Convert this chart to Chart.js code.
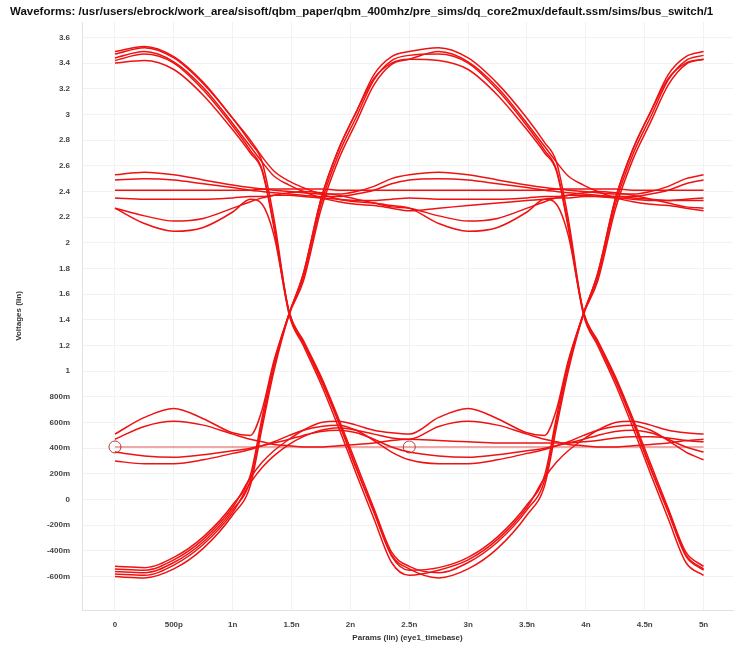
<!DOCTYPE html>
<html>
<head>
<meta charset="utf-8">
<title>bus_switch eye</title>
<script src="https://cdn.jsdelivr.net/npm/chart.js@4.4.1/dist/chart.umd.min.js"></script>
<style>
    html, body { margin: 0; padding: 0; background: #fff; }
    #wrap { width: 740px; height: 645px; }
</style>
</head>
<body>
<div id="wrap"><canvas id="eye" width="740" height="645"></canvas></div>
<script>
// Sample times over both unit intervals (ns)
const timeNs = [0, 0.25, 0.5, 0.75, 1.0, 1.15, 1.25, 1.35, 1.48, 1.6, 1.75, 1.9, 2.05, 2.2, 2.35,
                2.5, 2.75, 3.0, 3.25, 3.5, 3.65, 3.75, 3.85, 3.98, 4.1, 4.25, 4.4, 4.55, 4.7, 4.85, 5.0];

// Axis ticks
const xTicks = [0, 0.5, 1, 1.5, 2, 2.5, 3, 3.5, 4, 4.5, 5];
const xTickLabels = ['0', '500p', '1n', '1.5n', '2n', '2.5n', '3n', '3.5n', '4n', '4.5n', '5n'];
const yTicks = [3.6, 3.4, 3.2, 3, 2.8, 2.6, 2.4, 2.2, 2, 1.8, 1.6, 1.4, 1.2, 1, 0.8, 0.6, 0.4, 0.2, 0, -0.2, -0.4, -0.6];
const yTickLabels = ['3.6', '3.4', '3.2', '3', '2.8', '2.6', '2.4', '2.2', '2', '1.8', '1.6', '1.4', '1.2', '1',
                     '800m', '600m', '400m', '200m', '0', '-200m', '-400m', '-600m'];

// One unit interval of each waveform shape (V), 16 samples each
const fallA = [3.47, 3.52, 3.44, 3.24, 2.97, 2.78, 2.63, 2.19, 1.45, 1.22, 0.93, 0.60, 0.24, -0.10, -0.44, -0.55];
const fallB = [3.42, 3.47, 3.40, 3.19, 2.91, 2.72, 2.57, 2.14, 1.46, 1.24, 0.96, 0.63, 0.28, -0.07, -0.41, -0.52];
const fallC = [3.40, 3.42, 3.35, 3.15, 2.88, 2.70, 2.56, 2.12, 1.44, 1.20, 0.90, 0.56, 0.20, -0.15, -0.49, -0.59];
const riseA = [-0.52, -0.53, -0.45, -0.29, -0.04, 0.19, 0.64, 1.06, 1.45, 1.76, 2.34, 2.73, 3.02, 3.31, 3.45, 3.49];
const riseB = [-0.56, -0.57, -0.49, -0.33, -0.08, 0.15, 0.60, 1.03, 1.45, 1.73, 2.30, 2.69, 2.98, 3.27, 3.42, 3.46];
const riseC = [-0.60, -0.61, -0.54, -0.38, -0.12, 0.11, 0.56, 1.00, 1.44, 1.70, 2.26, 2.65, 2.94, 3.23, 3.39, 3.43];
const shoulderA = [3.49, 3.53, 3.45, 3.25, 2.97, 2.80, 2.67, 2.56, 2.48, 2.43, 2.38, 2.34, 2.32, 2.31, 2.29, 2.27];
const shoulderB = [3.44, 3.49, 3.41, 3.21, 2.93, 2.75, 2.63, 2.52, 2.45, 2.40, 2.35, 2.32, 2.30, 2.29, 2.27, 2.25];
const partialA = [-0.54, -0.55, -0.47, -0.31, -0.06, 0.17, 0.29, 0.38, 0.47, 0.54, 0.60, 0.61, 0.58, 0.54, 0.52, 0.51];
const partialB = [-0.58, -0.59, -0.51, -0.35, -0.10, 0.13, 0.25, 0.34, 0.43, 0.49, 0.54, 0.56, 0.54, 0.51, 0.48, 0.47];
const humpRise = [0.51, 0.64, 0.71, 0.63, 0.52, 0.50, 0.70, 1.08, 1.45, 1.76, 2.34, 2.73, 3.02, 3.28, 3.40, 3.43];
const lowHump = [0.47, 0.57, 0.61, 0.58, 0.51, 0.47, 0.45, 0.43, 0.42, 0.41, 0.41, 0.42, 0.43, 0.44, 0.46, 0.47];
const lowDip = [0.30, 0.28, 0.28, 0.31, 0.36, 0.39, 0.42, 0.45, 0.50, 0.54, 0.57, 0.58, 0.54, 0.46, 0.37, 0.31];
const lowMid = [0.37, 0.34, 0.33, 0.35, 0.38, 0.40, 0.42, 0.44, 0.47, 0.50, 0.53, 0.54, 0.52, 0.47, 0.41, 0.37];
const lowFlat = [0.41, 0.41, 0.41, 0.41, 0.41, 0.41, 0.41, 0.41, 0.41, 0.41, 0.41, 0.41, 0.41, 0.41, 0.41, 0.41];
const lowSettle = [0.47, 0.46, 0.45, 0.44, 0.44, 0.44, 0.44, 0.44, 0.45, 0.46, 0.48, 0.49, 0.49, 0.48, 0.46, 0.45];
const highHumpA = [2.53, 2.55, 2.53, 2.49, 2.45, 2.43, 2.42, 2.41, 2.40, 2.39, 2.38, 2.38, 2.40, 2.44, 2.50, 2.53];
const highHumpB = [2.49, 2.50, 2.49, 2.46, 2.43, 2.41, 2.40, 2.39, 2.38, 2.37, 2.36, 2.36, 2.38, 2.41, 2.46, 2.49];
const highFlatA = [2.41, 2.41, 2.41, 2.41, 2.41, 2.41, 2.42, 2.42, 2.42, 2.42, 2.42, 2.41, 2.41, 2.41, 2.41, 2.41];
const highFlatB = [2.35, 2.34, 2.34, 2.34, 2.35, 2.36, 2.36, 2.37, 2.37, 2.36, 2.35, 2.34, 2.33, 2.33, 2.34, 2.35];
const dipFall = [2.27, 2.15, 2.09, 2.12, 2.24, 2.34, 2.30, 2.06, 1.46, 1.23, 0.94, 0.61, 0.25, -0.09, -0.43, -0.54];
const dipStay = [2.27, 2.21, 2.17, 2.19, 2.27, 2.32, 2.35, 2.37, 2.39, 2.40, 2.39, 2.37, 2.34, 2.31, 2.28, 2.27];
const highSettle = [2.25, 2.27, 2.29, 2.31, 2.33, 2.34, 2.35, 2.35, 2.36, 2.36, 2.36, 2.35, 2.34, 2.33, 2.33, 2.33];

// Each trace: first interval shape, second interval shape
const traces = [
    [fallA, riseA], [fallB, riseB], [fallC, partialA], [shoulderA, dipFall], [shoulderB, highSettle],
    [riseA, fallA], [riseB, fallB], [riseC, shoulderB], [partialA, humpRise], [partialB, lowHump],
    [highHumpA, highHumpA], [highHumpB, highHumpB], [highFlatA, highFlatA], [highFlatB, highFlatB],
    [dipFall, riseC], [dipStay, dipStay], [humpRise, fallC], [lowHump, lowSettle],
    [lowDip, lowDip], [lowMid, lowMid]
];

// Reference level line and cursor markers
const refLevel = [lowFlat, lowFlat];
const markerT = [0, 2.5];
const markerV = [0.41, 0.41];

const titleText = 'Waveforms: /usr/users/ebrock/work_area/sisoft/qbm_paper/qbm_400mhz/pre_sims/dq_core2mux/default.ssm/sims/bus_switch/1';
const FONT = '"Liberation Sans", Arial, sans-serif';

const toPoints = (first, second) => {
    const values = first.concat(second.slice(1));
    return timeNs.map((t, i) => ({ x: t, y: values[i] }));
};

const datasets = traces.map(([a, b]) => ({
    data: toPoints(a, b),
    borderColor: '#ef1212',
    borderWidth: 1.5,
    pointRadius: 0,
    fill: false,
    cubicInterpolationMode: 'monotone'
}));

datasets.push({
    data: toPoints(refLevel[0], refLevel[1]),
    borderColor: 'rgba(215, 40, 40, 0.8)',
    borderWidth: 1.1,
    pointRadius: 0,
    fill: false
});

datasets.push({
    data: markerT.map((t, i) => ({ x: t, y: markerV[i] })),
    showLine: false,
    pointRadius: 6,
    pointBorderWidth: 1,
    pointBorderColor: '#b23a3a',
    pointBackgroundColor: 'rgba(0,0,0,0)'
});

// Path title, drawn unclipped along the top edge
const pathTitle = {
    id: 'pathTitle',
    afterDraw(chart) {
        const ctx = chart.ctx;
        ctx.save();
        ctx.font = 'bold 11.5px ' + FONT;
        ctx.fillStyle = '#111';
        ctx.textBaseline = 'middle';
        ctx.fillText(titleText, 10, 12);
        ctx.restore();
    }
};

const tickFont = { family: FONT, size: 8, weight: 'bold' };

new Chart(document.getElementById('eye'), {
    type: 'line',
    data: { datasets },
    plugins: [pathTitle],
    options: {
        responsive: false,
        animation: false,
        devicePixelRatio: 1,
        layout: { padding: { top: 22, left: 10, right: 5, bottom: 0 } },
        plugins: {
            legend: { display: false },
            tooltip: { enabled: false },
            title: { display: false }
        },
        scales: {
            x: {
                type: 'linear',
                min: -0.28,
                max: 5.25,
                afterBuildTicks: axis => { axis.ticks = xTicks.map(v => ({ value: v })); },
                afterFit: axis => { axis.height = 35; },
                ticks: {
                    font: tickFont,
                    color: '#444',
                    padding: 10,
                    autoSkip: false,
                    maxRotation: 0,
                    callback: v => xTickLabels[xTicks.indexOf(v)]
                },
                grid: { color: '#f2f2f2', drawTicks: false },
                border: { color: '#e2e2e2' },
                title: {
                    display: true,
                    text: 'Params (lin) (eye1_timebase)',
                    font: tickFont,
                    color: '#333',
                    padding: { top: 0, bottom: 2 }
                }
            },
            y: {
                type: 'linear',
                min: -0.86,
                max: 3.72,
                afterBuildTicks: axis => { axis.ticks = yTicks.map(v => ({ value: v })); },
                afterFit: axis => { axis.width = 72; },
                ticks: {
                    font: tickFont,
                    color: '#444',
                    padding: 12,
                    autoSkip: false,
                    callback: v => yTickLabels[yTicks.indexOf(v)]
                },
                grid: { color: '#f2f2f2', drawTicks: false },
                border: { color: '#e2e2e2' },
                title: {
                    display: true,
                    text: 'Voltages (lin)',
                    font: tickFont,
                    color: '#333',
                    padding: { top: 4, bottom: 0 }
                }
            }
        }
    }
});
</script>
</body>
</html>
